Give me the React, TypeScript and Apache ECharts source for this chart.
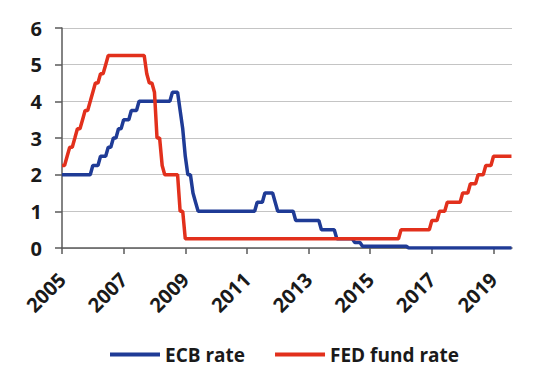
import React, { useEffect, useRef } from "react";
import * as echarts from "echarts";

// Year ticks shown on the x axis
const yearTicks: number[] = [2005, 2007, 2009, 2011, 2013, 2015, 2017, 2019];

// ECB main refinancing rate: [year (month-end), rate %] vertices of the line
const ecbRate: [number, number][] = [
  [2005.0, 2.0], [2005.917, 2.0], [2006.0, 2.25], [2006.167, 2.25], [2006.25, 2.5],
  [2006.417, 2.5], [2006.5, 2.75], [2006.583, 2.75], [2006.667, 3.0], [2006.75, 3.0],
  [2006.833, 3.25], [2006.917, 3.25], [2007.0, 3.5], [2007.167, 3.5], [2007.25, 3.75],
  [2007.417, 3.75], [2007.5, 4.0], [2008.5, 4.0], [2008.583, 4.25], [2008.75, 4.25],
  [2008.833, 3.75], [2008.917, 3.25], [2009.0, 2.5], [2009.083, 2.0], [2009.167, 2.0],
  [2009.25, 1.5], [2009.333, 1.25], [2009.417, 1.0], [2011.25, 1.0], [2011.333, 1.25],
  [2011.5, 1.25], [2011.583, 1.5], [2011.833, 1.5], [2011.917, 1.25], [2012.0, 1.0],
  [2012.5, 1.0], [2012.583, 0.75], [2013.333, 0.75], [2013.417, 0.5], [2013.833, 0.5],
  [2013.917, 0.25], [2014.417, 0.25], [2014.5, 0.15], [2014.667, 0.15], [2014.75, 0.05],
  [2016.167, 0.05], [2016.25, 0.0], [2019.583, 0.0],
];

// FED fund rate: [year (month-end), rate %] vertices of the line
const fedRate: [number, number][] = [
  [2005.0, 2.25], [2005.083, 2.25], [2005.167, 2.5], [2005.25, 2.75], [2005.333, 2.75],
  [2005.417, 3.0], [2005.5, 3.25], [2005.583, 3.25], [2005.667, 3.5], [2005.75, 3.75],
  [2005.833, 3.75], [2005.917, 4.0], [2006.0, 4.25], [2006.083, 4.5], [2006.167, 4.5],
  [2006.25, 4.75], [2006.333, 4.75], [2006.417, 5.0], [2006.5, 5.25], [2007.667, 5.25],
  [2007.75, 4.75], [2007.833, 4.5], [2007.917, 4.5], [2008.0, 4.25], [2008.083, 3.0],
  [2008.167, 3.0], [2008.25, 2.25], [2008.333, 2.0], [2008.75, 2.0], [2008.833, 1.0],
  [2008.917, 1.0], [2009.0, 0.25], [2015.917, 0.25], [2016.0, 0.5], [2016.917, 0.5],
  [2017.0, 0.75], [2017.167, 0.75], [2017.25, 1.0], [2017.417, 1.0], [2017.5, 1.25],
  [2017.917, 1.25], [2018.0, 1.5], [2018.167, 1.5], [2018.25, 1.75], [2018.417, 1.75],
  [2018.5, 2.0], [2018.667, 2.0], [2018.75, 2.25], [2018.917, 2.25], [2019.0, 2.5],
  [2019.583, 2.5],
];

const FONT = "'Open Sans', 'DejaVu Sans', sans-serif";

export default function App() {
  const ref = useRef<HTMLDivElement>(null);
  useEffect(() => {
    if (!ref.current) return;
    const chart = echarts.init(ref.current, null, { renderer: "svg" });
    chart.setOption({
      animation: false,
      backgroundColor: "#ffffff",
      grid: { left: 62, right: 48, top: 28, bottom: 131, containLabel: false },
      legend: {
        left: 105,
        top: 340,
        icon: "rect",
        itemWidth: 50,
        itemHeight: 4,
        itemGap: 30,
        textStyle: { fontFamily: FONT, fontSize: 19, fontWeight: "bold", color: "#1a1a1a" },
        data: ["ECB rate", "FED fund rate"],
      },
      xAxis: {
        type: "value",
        min: 2005,
        max: 2019.6,
        interval: 2,
        axisLine: { show: true, lineStyle: { color: "#5a5a5a", width: 1.5 } },
        axisTick: { show: true, length: 6, customValues: yearTicks, lineStyle: { color: "#5a5a5a", width: 1.5 } },
        axisLabel: {
          customValues: yearTicks,
          rotate: 45,
          margin: 28,
          fontFamily: FONT,
          fontSize: 20,
          fontWeight: "bold",
          color: "#1a1a1a",
          formatter: (v: number) => (Number.isInteger(v) ? String(v) : ""),
        },
        splitLine: { show: false },
      },
      yAxis: {
        type: "value",
        min: 0,
        max: 6,
        interval: 1,
        axisLine: { show: true, lineStyle: { color: "#5a5a5a", width: 1.5 } },
        axisTick: { show: true, length: 7, lineStyle: { color: "#5a5a5a", width: 1.5 } },
        axisLabel: {
          margin: 20,
          fontFamily: FONT,
          fontSize: 20,
          fontWeight: "bold",
          color: "#1a1a1a",
        },
        splitLine: { show: true, lineStyle: { color: "#c4c4c4", width: 1 } },
      },
      series: [
        {
          name: "ECB rate",
          type: "line",
          data: ecbRate,
          symbol: "none",
          color: "#1f3b96",
          lineStyle: { color: "#1f3b96", width: 3.5 },
          z: 2,
        },
        {
          name: "FED fund rate",
          type: "line",
          data: fedRate,
          symbol: "none",
          color: "#e2301c",
          lineStyle: { color: "#e2301c", width: 3.5 },
          z: 3,
        },
      ],
    });
    return () => chart.dispose();
  }, []);
  return (
    <div
      ref={ref}
      style={{ position: "fixed", left: 0, top: 0, width: 560, height: 379, background: "#fff" }}
    />
  );
}
